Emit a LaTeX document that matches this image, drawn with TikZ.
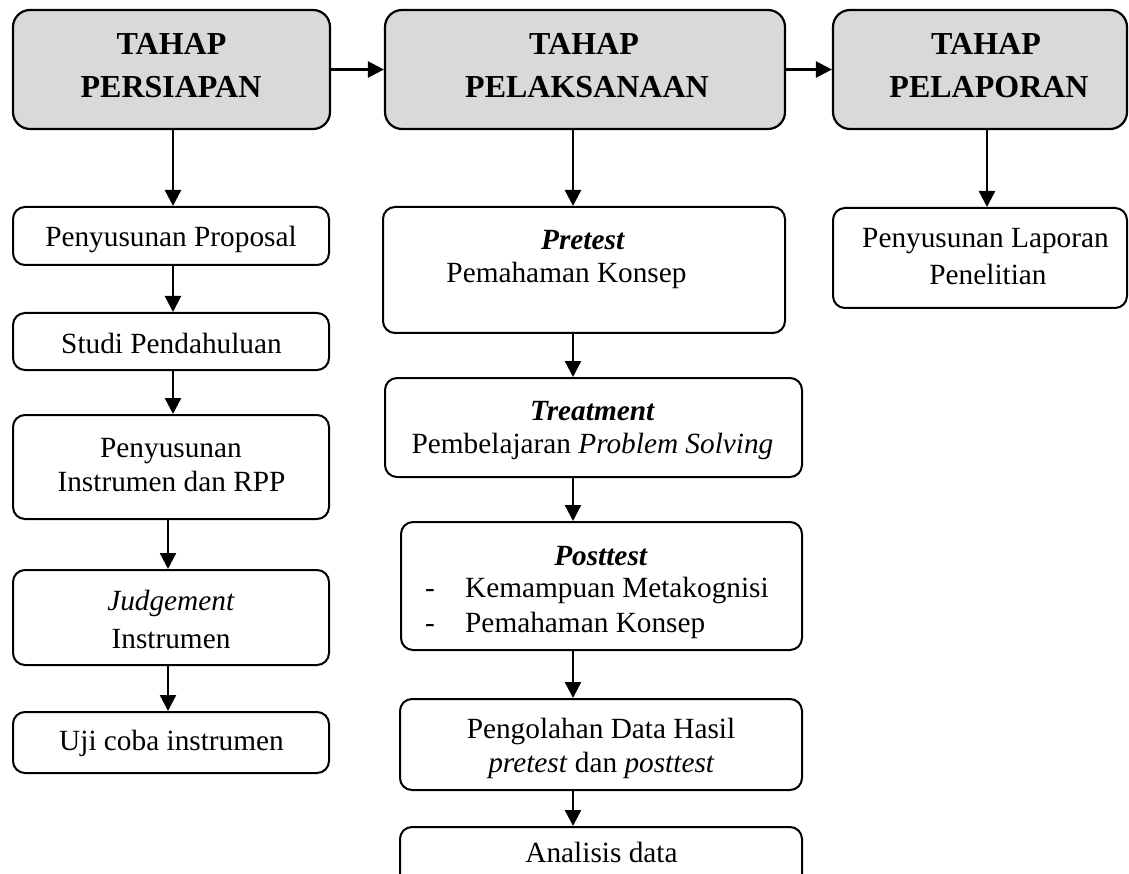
\documentclass[tikz,border=0pt]{standalone}
\usepackage{fontspec}
\setmainfont{Liberation Serif}
\usetikzlibrary{arrows.meta}
\definecolor{stagegray}{RGB}{217,217,217}
\begin{document}
\begin{tikzpicture}[x=1pt,y=-1pt,
 stage/.style={draw=black, line width=2.2pt, rounded corners=17pt, fill=stagegray, inner sep=0pt},
 stepbox/.style={draw=black, line width=2pt, rounded corners=12pt, inner sep=0pt, fill=white},
 flow/.style={draw=black, line width=2.3pt, -{Triangle[length=16pt,width=16pt]}},
 head/.style={anchor=base, inner sep=0pt, font=\fontsize{32}{38}\selectfont\bfseries},
 body/.style={anchor=base, inner sep=0pt, font=\fontsize{29.3}{34}\selectfont},
]
\useasboundingbox (0,0) rectangle (1129,874);
\clip (0,0) rectangle (1129,874);
\fill[white] (0,0) rectangle (1129,874);

% stage boxes
\node[stage, minimum width=317pt, minimum height=119pt] (s1) at (171.5,69.5) {};
\node[head] (s1a) at (171.5,55) {TAHAP};
\node[head] (s1b) at (171,98) {PERSIAPAN};

\node[stage, minimum width=400pt, minimum height=119pt] (s2) at (585,69.5) {};
\node[head] (s2a) at (584,55) {TAHAP};
\node[head] (s2b) at (587,98) {PELAKSANAAN};

\node[stage, minimum width=294pt, minimum height=119pt] (s3) at (980,69.5) {};
\node[head] (s3a) at (986,55) {TAHAP};
\node[head] (s3b) at (989,98) {PELAPORAN};

% left column
\node[stepbox, minimum width=316pt, minimum height=58pt] (p1) at (171,236) {};
\node[body] (p1a) at (171,247) {Penyusunan Proposal};

\node[stepbox, minimum width=316pt, minimum height=57pt] (p2) at (171,341.5) {};
\node[body] (p2a) at (171.5,353) {Studi Pendahuluan};

\node[stepbox, minimum width=316pt, minimum height=104pt] (p3) at (171,467) {};
\node[body] (p3a) at (171,457) {Penyusunan};
\node[body] (p3b) at (171.5,491) {Instrumen dan RPP};

\node[stepbox, minimum width=316pt, minimum height=95pt] (p4) at (171,617.5) {};
\node[body] (p4a) at (171,610) {\textit{Judgement}};
\node[body] (p4b) at (171,648) {Instrumen};

\node[stepbox, minimum width=316pt, minimum height=61pt] (p5) at (171,742.5) {};
\node[body] (p5a) at (171.5,750) {Uji coba instrumen};

% middle column
\node[stepbox, minimum width=402pt, minimum height=126pt] (m1) at (584,270) {};
\node[body] (m1a) at (583,250) {\textbf{\textit{Pretest}}};
\node[body] (m1b) at (566.5,283) {Pemahaman Konsep};

\node[stepbox, minimum width=417pt, minimum height=99pt] (m2) at (593.5,427.5) {};
\node[body] (m2a) at (592.5,420) {\textbf{\textit{Treatment}}};
\node[body] (m2b) at (592.5,453) {Pembelajaran \textit{Problem Solving}};

\node[stepbox, minimum width=401pt, minimum height=128pt] (m3) at (601.5,586) {};
\node[body] (m3a) at (601,565) {\textbf{\textit{Posttest}}};
\node[body] (m3b) at (430,597) {-};
\node[body, anchor=base west] (m3c) at (465,597) {Kemampuan Metakognisi};
\node[body] (m3d) at (430,632) {-};
\node[body, anchor=base west] (m3e) at (465,632) {Pemahaman Konsep};

\node[stepbox, minimum width=402pt, minimum height=91pt] (m4) at (601,744.5) {};
\node[body] (m4a) at (601,738) {Pengolahan Data Hasil};
\node[body] (m4b) at (601.5,772) {\textit{pretest} dan \textit{posttest}};

\node[stepbox, minimum width=402pt, minimum height=80pt] (m5) at (601,867) {};
\node[body] (m5a) at (601.5,862) {Analisis data};

% right column
\node[stepbox, minimum width=294pt, minimum height=100pt] (r1) at (980,258) {};
\node[body] (r1a) at (985.5,248) {Penyusunan Laporan};
\node[body] (r1b) at (988,285) {Penelitian};

% connectors
\draw[flow] (s1) -- (s2);
\draw[flow] (s2) -- (s3);

\draw[flow] ([xshift=1.5pt]s1.south) -- ([xshift=2pt]p1.north);
\draw[flow] ([xshift=2pt]p1.south) -- ([xshift=2pt]p2.north);
\draw[flow] ([xshift=2pt]p2.south) -- ([xshift=2pt]p3.north);
\draw[flow] ([xshift=-3pt]p3.south) -- ([xshift=-3pt]p4.north);
\draw[flow] ([xshift=-3pt]p4.south) -- ([xshift=-3pt]p5.north);

\draw[flow] ([xshift=-12pt]s2.south) -- ([xshift=-11pt]m1.north);
\draw[flow] ([xshift=-11pt]m1.south) -- ([xshift=-20.5pt]m2.north);
\draw[flow] ([xshift=-20.5pt]m2.south) -- ([xshift=-28.5pt]m3.north);
\draw[flow] ([xshift=-28.5pt]m3.south) -- ([xshift=-28pt]m4.north);
\draw[flow] ([xshift=-28pt]m4.south) -- ([xshift=-28pt]m5.north);

\draw[flow] ([xshift=7pt]s3.south) -- ([xshift=7pt]r1.north);
\end{tikzpicture}
\end{document}
